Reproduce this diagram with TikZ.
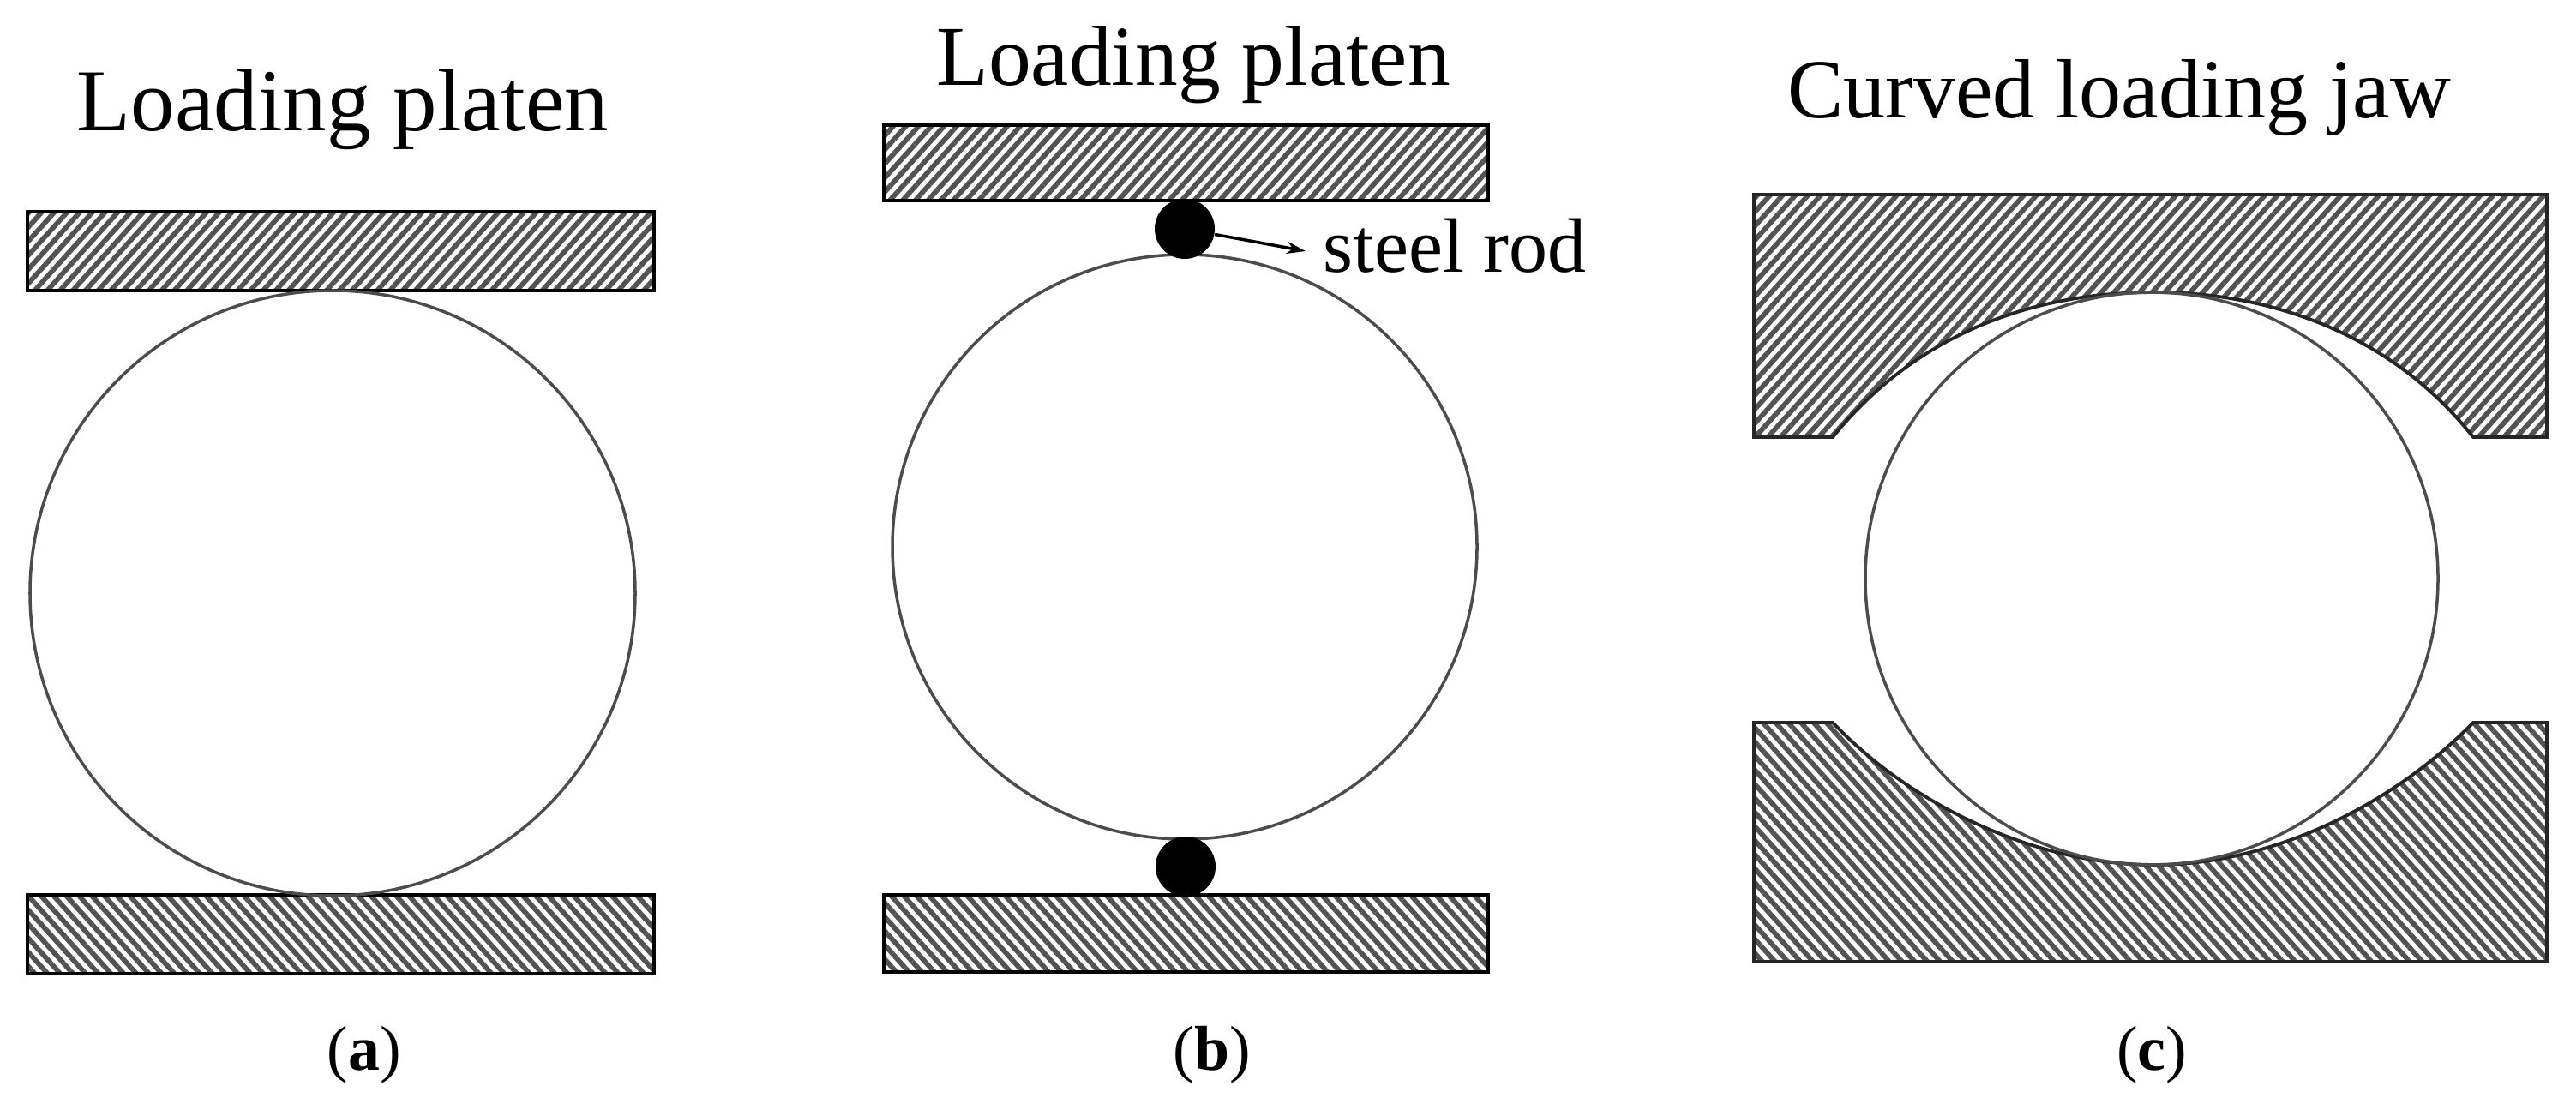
\documentclass[tikz,border=0pt]{standalone}
\usepackage{fontspec}
\setmainfont{Liberation Serif}
\usetikzlibrary{
    arrows.meta,
    patterns.meta,
    positioning
}
\tikzset{
    hatchup/.style={pattern={Lines[angle=48, distance=0.11cm, line width=0.058cm]}, pattern color=black!68},
    hatchdown/.style={pattern={Lines[angle=-48, distance=0.11cm, line width=0.058cm]}, pattern color=black!68},
    platen/.style={draw, line width=1.3pt, inner sep=0, minimum width=#1},
    specimen/.style={draw=black!70, line width=1pt, circle, inner sep=0, minimum size=#1},
    jaw/.style={draw=black!85, line width=1.1pt, line join=miter},
    rod/.style={circle, fill=black, inner sep=0, minimum size=0.7cm},
    title/.style={inner sep=0, anchor=base, font=\fontsize{#1}{30}\selectfont},
    sublabel/.style={inner sep=0, anchor=base, font=\fontsize{21}{26}\selectfont}
}
\begin{document}
\begin{tikzpicture}
    \useasboundingbox (0, 0) rectangle (30.05, -12.88);

    % panel a
    \node[title=29.3] (ta) at (4.00, -1.53) {Loading platen};
    \node[platen=7.31cm, minimum height=0.92cm, hatchup] (pa1) at (3.975, -2.93) {};
    \node[platen=7.31cm, minimum height=0.92cm, hatchdown] (pa2) at (3.975, -10.90) {};
    \node[specimen=7.06cm] (ca) at (3.88, -6.92) {};
    \node[sublabel] (la) at (4.25, -12.48) {(\textbf{a})};

    % panel b
    \node[title=28.3] (tb) at (13.92, -1.00) {Loading platen};
    \node[platen=7.05cm, minimum height=0.88cm, hatchup] (pb1) at (13.835, -1.90) {};
    \node[platen=7.05cm, minimum height=0.90cm, hatchdown] (pb2) at (13.835, -10.89) {};
    \node[specimen=6.82cm] (cb) at (13.82, -6.38) {};
    \node[rod] (rb1) at (13.82, -2.67) {};
    \node[rod] (rb2) at (13.83, -10.11) {};
    \node[inner sep=0, anchor=base, font=\fontsize{25.6}{28}\selectfont] (sr) at (16.97, -3.18) {steel rod};
    \coordinate (srtip) at (15.23, -2.93);
    \node[sublabel] (lb) at (14.14, -12.48) {(\textbf{b})};
    \draw (rb1) edge[-{Stealth[length=0.22cm, width=0.14cm]}, line width=1pt] (srtip);

    % panel c
    \node[title=27.9] (tc) at (24.72, -1.38) {Curved loading jaw};
    \draw[jaw, hatchup] (20.46, -2.27) -- (29.71, -2.27) -- (29.71, -5.10) -- (28.85, -5.10)
        .. controls (27.90, -3.90) and (26.50, -3.41) .. (25.13, -3.41)
        .. controls (23.70, -3.41) and (22.35, -3.90) .. (21.38, -5.10)
        -- (20.46, -5.10) -- cycle;
    \draw[jaw, hatchdown] (20.46, -11.22) -- (29.71, -11.22) -- (29.71, -8.43) -- (28.85, -8.43)
        .. controls (27.90, -9.40) and (26.50, -10.09) .. (25.13, -10.09)
        .. controls (23.70, -10.09) and (22.25, -9.35) .. (21.38, -8.43)
        -- (20.46, -8.43) -- cycle;
    \node[specimen=6.68cm] (cc) at (25.10, -6.75) {};
    \node[sublabel] (lc) at (25.10, -12.48) {(\textbf{c})};
\end{tikzpicture}
\end{document}
